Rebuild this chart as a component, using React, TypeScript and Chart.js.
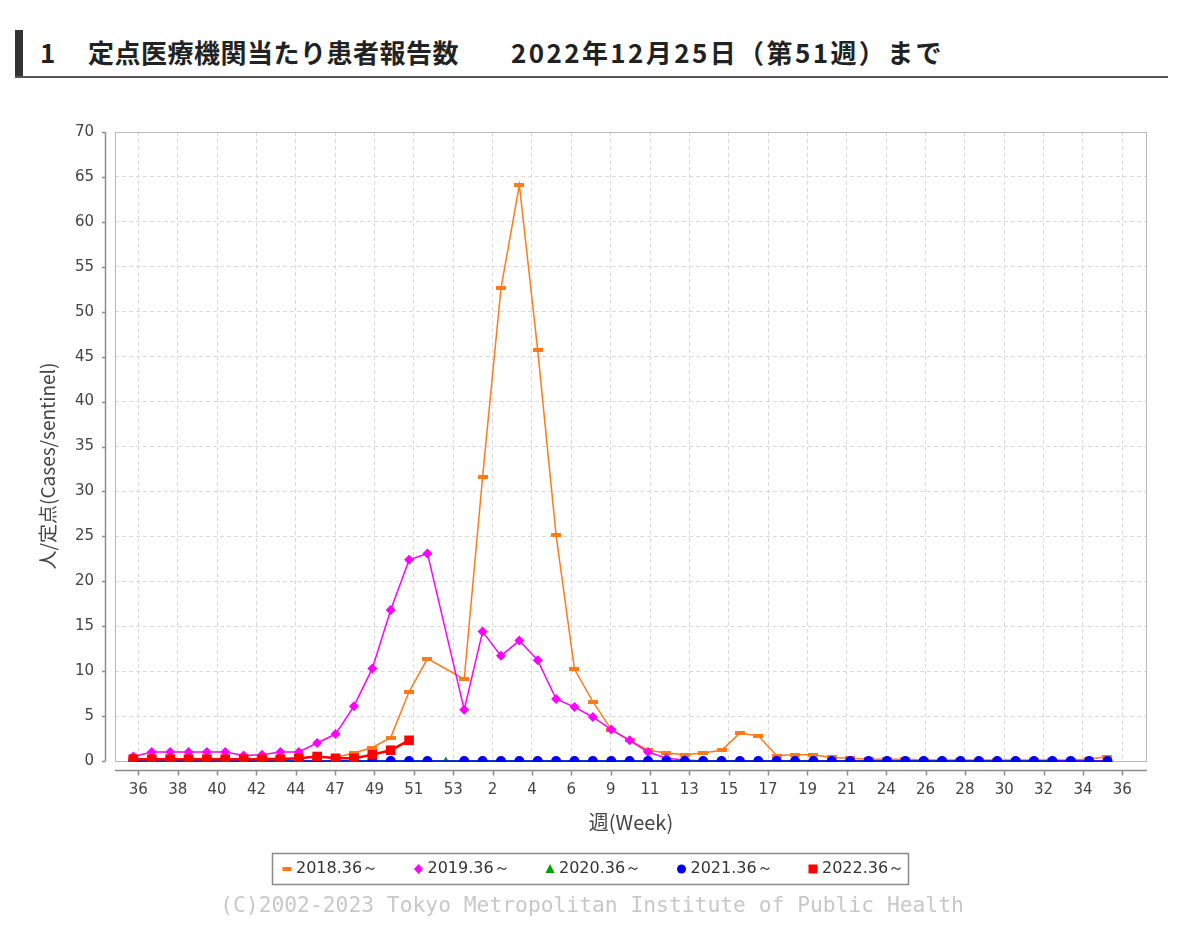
import React, { useEffect, useRef } from "react";
import { Chart, registerables } from "chart.js";

Chart.register(...registerables);

// ---- data ----
const weekTickLabels = [
  "36", "38", "40", "42", "44", "47", "49", "51", "53", "2", "4", "6", "9",
  "11", "13", "15", "17", "19", "21", "24", "26", "28", "30", "32", "34", "36",
];
const seasonLabels = ["2018.36～", "2019.36～", "2020.36～", "2021.36～", "2022.36～"];

// index 0 = week 36, 17 = week 53, 18 = week 1 ...
const rate2018 = [
  0.2, 0.2, 0.2, 0.2, 0.2, 0.2, 0.2, 0.3, 0.3, 0.3,
  0.5, 0.4, 0.9, 1.5, 2.6, 7.7, 11.4, null,
  9.1, 31.6, 52.6, 64.1, 45.7, 25.1, 10.2, 6.6, 3.5, 2.3,
  1.2, 0.9, 0.7, 0.9, 1.2, 3.1, 2.8, 0.6, 0.7, 0.7,
  0.4, 0.3, 0.2, 0.2, 0.2, 0.1, 0.1, 0.1, 0.1, 0.1,
  0.1, 0.1, 0.1, 0.1, 0.2, 0.5,
];
const rate2019 = [
  0.5, 1.0, 1.0, 1.0, 1.0, 1.0, 0.6, 0.7, 1.0, 1.0,
  2.0, 3.0, 6.1, 10.3, 16.8, 22.4, 23.1, null,
  5.7, 14.4, 11.7, 13.4, 11.2, 6.9, 6.0, 4.9, 3.5, 2.3,
  1.0, 0.3, 0.1, 0, 0, 0, 0, 0, 0, 0,
  0, 0, 0, 0, 0, 0, 0, 0, 0, 0,
  0, 0, 0, 0, 0, 0,
];
const rate2020 = [
  0, 0, 0, 0, 0, 0, 0, 0, 0, 0,
  0, 0, 0, 0, 0, 0, 0, 0,
  0, 0, 0, 0, 0, 0, 0, 0, 0, 0,
  0, 0, 0, 0, 0, 0, 0, 0, 0, 0,
  0, 0, 0, 0, 0, 0, 0, 0, 0, 0,
  0, 0, 0,
];
const rate2021 = [
  0, 0, 0, 0, 0, 0, 0, 0, 0, 0,
  0, 0, 0, 0, 0, 0, 0, null,
  0, 0, 0, 0, 0, 0, 0, 0, 0, 0,
  0, 0, 0, 0, 0, 0, 0, 0, 0, 0,
  0, 0, 0, 0, 0, 0, 0, 0, 0, 0,
  0, 0, 0, 0, 0, 0,
];
const rate2022 = [
  0.2, 0.2, 0.2, 0.2, 0.2, 0.2, 0.2, 0.2, 0.2, 0.3,
  0.5, 0.3, 0.3, 0.7, 1.2, 2.3,
];
const seasonColors = ["#FF7A1A", "#FF00FF", "#00A000", "#0000FF", "#FF0000"];

// ---- layout constants ----
const X_MIN = -1;
const X_MAX = 55.15;
const X_FIRST_TICK = 0.27;
const X_TICK_STEP = 2.1415;

const TICK_FONT = '"DejaVu Sans", sans-serif';
const JP_FONT = '"Noto Sans CJK JP", sans-serif';

const toPoints = (arr: (number | null)[]) => arr.map((v, i) => ({ x: i, y: v }));

const framePlugin = {
  id: "frame",
  beforeDatasetsDraw(chart: any) {
    const { ctx, chartArea: a } = chart;
    ctx.save();
    ctx.strokeStyle = "#b8b8b8";
    ctx.lineWidth = 1;
    ctx.strokeRect(a.left + 0.5, a.top + 0.5, a.right - a.left - 1, a.bottom - a.top);
    ctx.restore();
  },
  afterDraw(chart: any) {
    const { ctx, chartArea: a, scales } = chart;
    const xs = scales.x;
    const ys = scales.y;
    ctx.save();
    // offset axis lines
    ctx.strokeStyle = "#8c8c8c";
    ctx.lineWidth = 1.5;
    ctx.beginPath();
    const ax = a.left - 9.5;
    ctx.moveTo(ax, a.top);
    ctx.lineTo(ax, a.bottom);
    ys.ticks.forEach((t: any) => {
      const y = Math.round(ys.getPixelForValue(t.value)) + 0.5;
      ctx.moveTo(ax - 3.5, y);
      ctx.lineTo(ax, y);
    });
    const ay = a.bottom + 9.5;
    ctx.moveTo(a.left, ay);
    ctx.lineTo(a.right, ay);
    xs.ticks.forEach((t: any) => {
      const x = Math.round(xs.getPixelForValue(t.value)) + 0.5;
      ctx.moveTo(x, ay);
      ctx.lineTo(x, ay + 5);
    });
    ctx.stroke();

    // y-axis title
    ctx.save();
    ctx.translate(48, 466);
    ctx.rotate(-Math.PI / 2);
    ctx.fillStyle = "#444";
    ctx.font = `19px ${JP_FONT}`;
    ctx.textAlign = "center";
    ctx.textBaseline = "middle";
    ctx.fillText("人/定点(Cases/sentinel)", 0, 0);
    ctx.restore();

    // legend
    const lx = 272, ly = 853, lw = 636, lh = 31;
    ctx.strokeStyle = "#8a8a8a";
    ctx.lineWidth = 1.5;
    ctx.strokeRect(lx + 0.5, ly + 0.5, lw, lh);
    const cy = ly + lh / 2 + 0.5;
    ctx.font = `16px ${TICK_FONT}`;
    ctx.textBaseline = "middle";
    ctx.textAlign = "left";
    chart.data.datasets.forEach((ds: any, i: number) => {
      const cx = 287 + i * 131.5;
      const col = ds.borderColor;
      ctx.fillStyle = col;
      ctx.beginPath();
      if (i === 0) {
        ctx.rect(cx - 4.5, cy - 2, 9, 4);
      } else if (i === 1) {
        ctx.moveTo(cx, cy - 5);
        ctx.lineTo(cx + 4.5, cy);
        ctx.lineTo(cx, cy + 5);
        ctx.lineTo(cx - 4.5, cy);
        ctx.closePath();
      } else if (i === 2) {
        ctx.moveTo(cx, cy - 5);
        ctx.lineTo(cx + 4.5, cy + 4);
        ctx.lineTo(cx - 4.5, cy + 4);
        ctx.closePath();
      } else if (i === 3) {
        ctx.arc(cx, cy, 4.5, 0, Math.PI * 2);
      } else {
        ctx.rect(cx - 4.5, cy - 4.5, 9, 9);
      }
      ctx.fill();
      ctx.fillStyle = "#333";
      ctx.fillText(ds.label, cx + 9, cy);
    });

    // copyright
    ctx.font = `21.3px "DejaVu Sans Mono", monospace`;
    ctx.fillStyle = "#c8c8c8";
    ctx.textAlign = "center";
    ctx.fillText("(C)2002-2023 Tokyo Metropolitan Institute of Public Health", 592, 906);
    ctx.restore();
  },
};

export default function App() {
  const ref = useRef<HTMLCanvasElement>(null);

  useEffect(() => {
    if (!ref.current) return;
    const dash = document.createElement("canvas");
    dash.width = 10;
    dash.height = 4;
    const g = dash.getContext("2d")!;
    g.fillStyle = seasonColors[0];
    g.fillRect(0, 0, 10, 4);

    const series = [rate2018, rate2019, rate2020, rate2021, rate2022];
    const styles: any[] = [dash, "rectRot", "triangle", "circle", "rect"];
    const radii = [5, 5, 4.5, 5, 6.8];
    const widths = [1.5, 1.5, 1.5, 1.5, 2.5];

    const chart = new Chart(ref.current, {
      type: "line",
      data: {
        datasets: series.map((s, i) => ({
          label: seasonLabels[i],
          data: toPoints(s),
          borderColor: seasonColors[i],
          backgroundColor: seasonColors[i],
          pointBackgroundColor: seasonColors[i],
          pointBorderColor: seasonColors[i],
          pointBorderWidth: 0,
          pointStyle: styles[i],
          pointRadius: radii[i],
          borderWidth: widths[i],
          spanGaps: true,
          tension: 0,
          clip: { left: 0, top: 0, right: 0, bottom: 1 },
          order: 5 - i,
        })),
      },
      options: {
        animation: false,
        responsive: false,
        events: [],
        layout: { padding: { top: 132, right: 53, left: 0, bottom: 94 } },
        plugins: {
          legend: { display: false },
          tooltip: { enabled: false },
        },
        scales: {
          x: {
            type: "linear",
            min: X_MIN,
            max: X_MAX,
            afterBuildTicks: (s: any) => {
              s.ticks = weekTickLabels.map((_, k) => ({ value: X_FIRST_TICK + k * X_TICK_STEP }));
            },
            afterFit: (s: any) => {
              s.height = 75;
            },
            grid: { color: "#dadada", lineWidth: 1, drawTicks: false },
            border: { display: false, dash: [4, 3] },
            ticks: {
              autoSkip: false,
              maxRotation: 0,
              minRotation: 0,
              padding: 20,
              color: "#444",
              font: { family: TICK_FONT, size: 15 },
              callback: (_v: any, i: number) => weekTickLabels[i] ?? "",
            },
            title: {
              display: true,
              text: "週(Week)",
              color: "#444",
              font: { family: JP_FONT, size: 20 },
              padding: { top: 0, bottom: 2 },
            },
          },
          y: {
            min: 0,
            max: 70,
            afterFit: (s: any) => {
              s.width = 115;
            },
            grid: { color: "#dadada", lineWidth: 1, drawTicks: false },
            border: { display: false, dash: [4, 3] },
            ticks: {
              stepSize: 5,
              padding: 21,
              color: "#444",
              font: { family: TICK_FONT, size: 15 },
            },
          },
        },
      },
      plugins: [framePlugin],
    } as any);
    return () => chart.destroy();
  }, []);

  const titleFont: React.CSSProperties = {
    position: "absolute",
    top: 39,
    fontFamily: JP_FONT,
    fontWeight: 700,
    fontSize: 26,
    lineHeight: "26px",
    color: "#222",
    whiteSpace: "pre",
  };

  return (
    <div style={{ position: "absolute", left: 0, top: 0, width: 1200, height: 930, background: "#fff" }}>
      <div style={{ position: "absolute", left: 15, top: 30, width: 8, height: 48, background: "#333" }} />
      <div style={{ position: "absolute", left: 15, top: 76, width: 1153, height: 2, background: "#555" }} />
      <span style={{ ...titleFont, left: 40 }}>1</span>
      <span style={{ ...titleFont, left: 88, letterSpacing: 0.5 }}>定点医療機関当たり患者報告数</span>
      <span style={{ ...titleFont, left: 511, letterSpacing: 2.4 }}>2022年12月25日（第51週）まで</span>
      <canvas ref={ref} width={1200} height={930} style={{ position: "absolute", left: 0, top: 0 }} />
    </div>
  );
}
